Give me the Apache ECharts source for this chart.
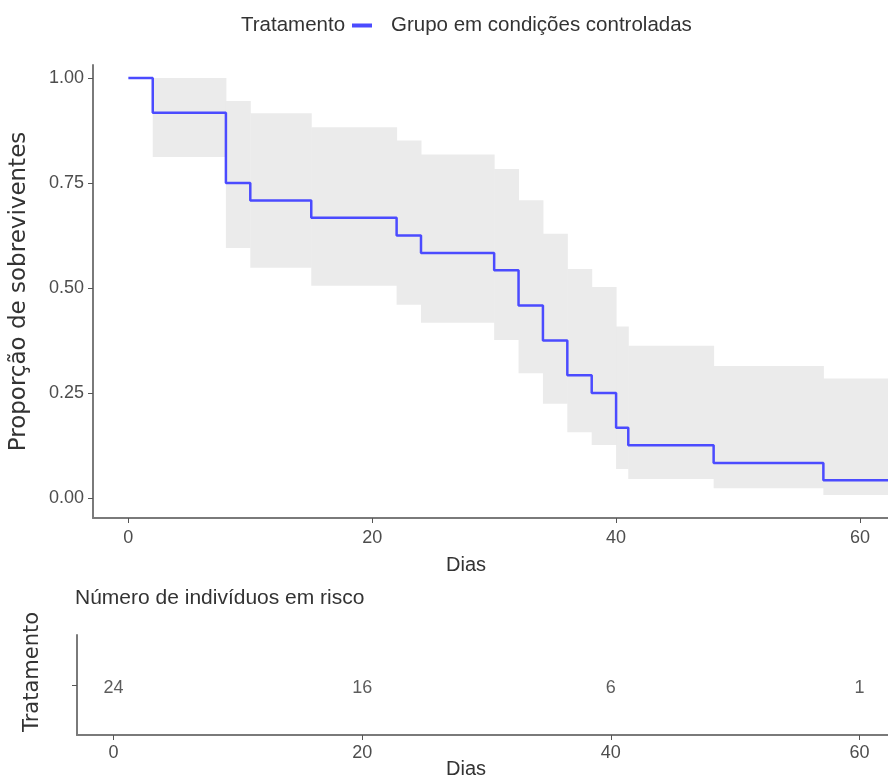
<!DOCTYPE html>
<html>
<head>
<meta charset="utf-8">
<script src="https://cdn.jsdelivr.net/npm/echarts@6/dist/echarts.min.js"></script>
<style>
  html, body { margin: 0; padding: 0; background: #fff; }
  #chart { width: 888px; height: 775px; }
</style>
</head>
<body>
<div id="chart"></div>
<script>
// survival curve (Kaplan-Meier), step holds until next time
const times = [0, 2, 8, 10, 15, 22, 24, 30, 32, 34, 36, 38, 40, 41, 48, 57, 63];
const survival = [1.0, 0.917, 0.75, 0.708, 0.667, 0.625, 0.583, 0.542, 0.458, 0.375, 0.292, 0.25, 0.167, 0.125, 0.083, 0.042, 0.042];

// confidence band intervals
const bandStart = [2, 8, 10, 15, 22, 24, 30, 32, 34, 36, 38, 40, 41, 48, 57];
const bandEnd = [8, 10, 15, 22, 24, 30, 32, 34, 36, 38, 40, 41, 48, 57, 63];
const bandLower = [0.812, 0.595, 0.548, 0.505, 0.46, 0.417, 0.376, 0.297, 0.224, 0.156, 0.126, 0.069, 0.045, 0.023, 0.007];
const bandUpper = [1.0, 0.945, 0.916, 0.883, 0.851, 0.818, 0.783, 0.709, 0.629, 0.545, 0.502, 0.408, 0.362, 0.314, 0.284];

// risk table
const riskTimes = [0, 20, 40, 60];
const riskCounts = [24, 16, 6, 1];

const xTicks = [0, 20, 40, 60];
const yTicks = [0, 0.25, 0.5, 0.75, 1.0];
const groupName = 'Grupo em condições controladas';

const sans = '"Liberation Sans", Arial, sans-serif';
const wide = '"DejaVu Sans", "Open Sans", sans-serif';
const axisGray = '#7a7a7a';
const textGray = '#4d4d4d';

const chart = echarts.init(document.getElementById('chart'));

const option = {
  animation: false,
  title: [
    { text: 'Tratamento', left: 236, top: 10, textStyle: { fontFamily: sans, fontSize: 20.5, fontWeight: 'normal', color: '#333' } },
    { text: 'Número de indivíduos em risco', left: 70, top: 583, textStyle: { fontFamily: sans, fontSize: 21, fontWeight: 'normal', color: '#333' } },
    { text: 'Dias', left: 461, top: 550, textAlign: 'center', textStyle: { fontFamily: sans, fontSize: 20, fontWeight: 'normal', color: '#333' } },
    { text: 'Dias', left: 461, top: 754, textAlign: 'center', textStyle: { fontFamily: sans, fontSize: 20, fontWeight: 'normal', color: '#333' } }
  ],
  legend: {
    data: [groupName],
    left: 347,
    top: 10,
    icon: 'rect',
    itemWidth: 20,
    itemHeight: 4,
    textStyle: { fontFamily: sans, fontSize: 20.5, color: '#333', padding: [0, 0, 0, 14] }
  },
  grid: [
    { left: 93, right: 0, top: 65, height: 453 },
    { left: 77, right: 0, top: 635, height: 100 }
  ],
  xAxis: [
    {
      gridIndex: 0, type: 'value', min: -2.9, max: 62.3,
      splitLine: { show: false },
      axisLine: { show: true, onZero: false, lineStyle: { color: axisGray, width: 2 } },
      axisTick: { show: true, customValues: xTicks, length: 5, lineStyle: { color: '#555' } },
      axisLabel: { customValues: xTicks, fontFamily: sans, fontSize: 18, color: textGray, margin: 11 }
    },
    {
      gridIndex: 1, type: 'value', min: -2.94, max: 62.3,
      splitLine: { show: false },
      axisLine: { show: true, onZero: false, lineStyle: { color: axisGray, width: 2 } },
      axisTick: { show: true, customValues: xTicks, length: 5, lineStyle: { color: '#555' } },
      axisLabel: { customValues: xTicks, fontFamily: sans, fontSize: 18, color: textGray, margin: 9 }
    }
  ],
  yAxis: [
    {
      gridIndex: 0, type: 'value', min: -0.048, max: 1.031,
      name: 'Proporção de sobreviventes',
      nameLocation: 'middle', nameGap: 62,
      nameTextStyle: { fontFamily: wide, fontSize: 23, color: '#333' },
      splitLine: { show: false },
      axisLine: { show: true, onZero: false, lineStyle: { color: axisGray, width: 2 } },
      axisTick: { show: true, customValues: yTicks, length: 5, lineStyle: { color: '#555' } },
      axisLabel: { customValues: yTicks, fontFamily: sans, fontSize: 18, color: textGray, margin: 9,
        formatter: v => v.toFixed(2) }
    },
    {
      gridIndex: 1, type: 'category', data: [groupName],
      name: 'Tratamento',
      nameLocation: 'middle', nameGap: 34,
      nameTextStyle: { fontFamily: wide, fontSize: 21, color: '#333', padding: [0, 0, 0, 26] },
      axisLine: { show: true, onZero: false, lineStyle: { color: axisGray, width: 2 } },
      axisTick: { show: true, alignWithLabel: true, length: 5, lineStyle: { color: '#555' } },
      axisLabel: { show: false }
    }
  ],
  series: [
    {
      type: 'custom',
      xAxisIndex: 0, yAxisIndex: 0,
      clip: true,
      silent: true,
      data: bandStart.map((s, i) => [s, bandEnd[i], bandLower[i], bandUpper[i]]),
      encode: { x: [0, 1], y: [2, 3] },
      renderItem: (params, api) => {
        const p1 = api.coord([api.value(0), api.value(3)]);
        const p2 = api.coord([api.value(1), api.value(2)]);
        return {
          type: 'rect',
          shape: { x: p1[0], y: p1[1], width: p2[0] - p1[0] + 0.5, height: p2[1] - p1[1] },
          style: { fill: '#ebebeb' }
        };
      },
      z: 1
    },
    {
      name: groupName,
      type: 'line',
      xAxisIndex: 0, yAxisIndex: 0,
      step: 'end',
      showSymbol: false,
      data: times.map((t, i) => [t, survival[i]]),
      lineStyle: { color: '#4b4bff', width: 2.5 },
      itemStyle: { color: '#4b4bff' },
      z: 3
    },
    {
      type: 'scatter',
      xAxisIndex: 1, yAxisIndex: 1,
      symbolSize: 0,
      data: riskTimes.map((t, i) => [t, 0, riskCounts[i]]),
      label: {
        show: true, position: 'inside', offset: [0, 3],
        formatter: p => String(p.value[2]),
        fontFamily: sans, fontSize: 18, color: '#333'
      }
    }
  ]
};

chart.setOption(option);
</script>
</body>
</html>
